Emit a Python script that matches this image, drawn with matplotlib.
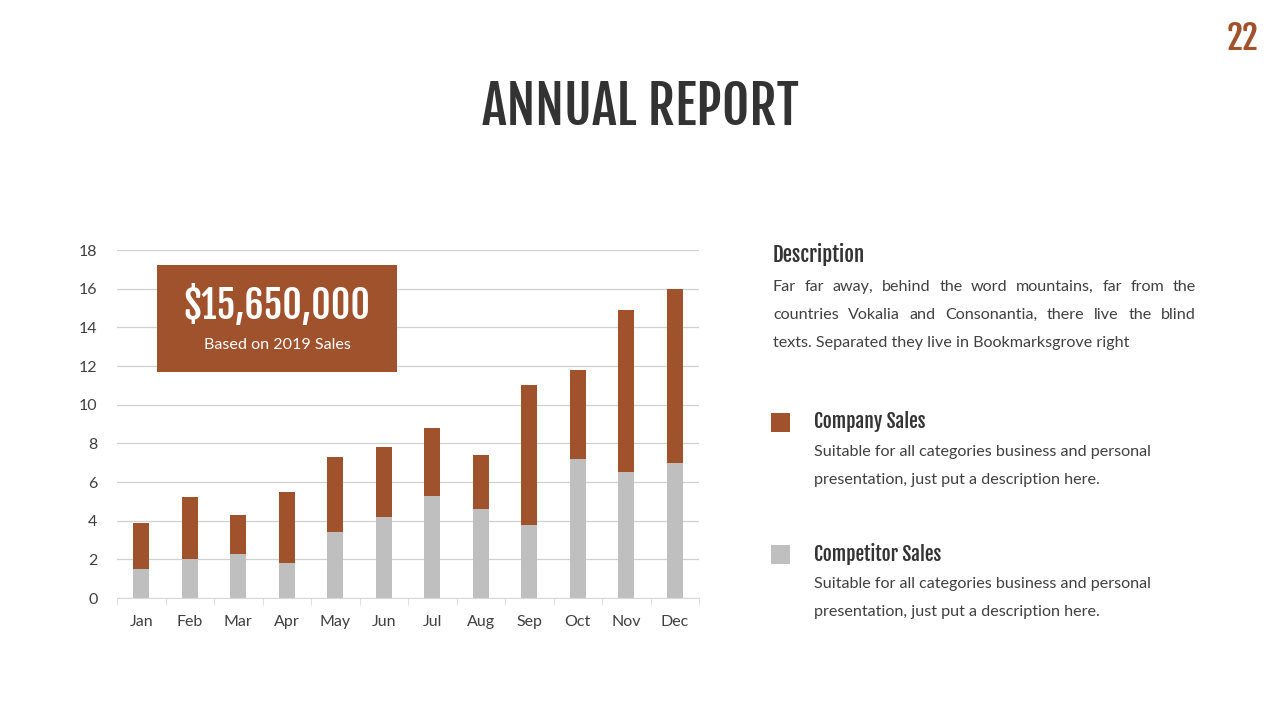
import matplotlib
matplotlib.use("Agg")
import matplotlib.pyplot as plt
from matplotlib.patches import Rectangle
import numpy as np

months = ['Jan', 'Feb', 'Mar', 'Apr', 'May', 'Jun', 'Jul', 'Aug', 'Sep', 'Oct', 'Nov', 'Dec']
competitor = [1.5, 2.0, 2.3, 1.8, 3.4, 4.2, 5.3, 4.6, 3.8, 7.2, 6.5, 7.0]
company = [2.4, 3.2, 2.0, 3.7, 3.9, 3.6, 3.5, 2.8, 7.2, 4.6, 8.4, 9.0]
yticks = [0, 2, 4, 6, 8, 10, 12, 14, 16, 18]

BROWN = '#A0522D'
GREY = '#BFBFBF'
DARK = '#333333'
BODY = '#404040'
COND = ['Fjalla One', 'Oswald', 'Roboto Condensed', 'DejaVu Sans']
LATO = ['Lato', 'DejaVu Sans']
BODY_SIZE = 11.6

W, H = 1280, 720


def fx(x):
    return x / W


def fy(y):
    return 1 - y / H


fig = plt.figure(figsize=(12.8, 7.2), dpi=100)
fig.patch.set_facecolor('white')

ax = fig.add_axes([fx(117), fy(598), fx(699) - fx(117), fy(250) - fy(598)])
x = np.arange(len(months))
ax.bar(x, competitor, width=0.33, color=GREY, zorder=2)
ax.bar(x, company, width=0.33, bottom=competitor, color=BROWN, zorder=2)
ax.set_xlim(-0.5, 11.5)
ax.set_ylim(0, 18)
ax.set_yticks(yticks)
ax.set_xticks(x)
ax.set_xticklabels(months)
ax.set_xticks(np.arange(-0.5, 12, 1), minor=True)
ax.tick_params(axis='x', which='major', length=0, pad=12, labelsize=11.5, labelcolor=BODY)
ax.tick_params(axis='x', which='minor', length=5, color='#D9D9D9')
ax.tick_params(axis='y', length=0, pad=14, labelsize=11.5, labelcolor=BODY)
for lab in ax.get_xticklabels() + ax.get_yticklabels():
    lab.set_family(LATO)
ax.grid(axis='y', color='#D0D0D0', linewidth=0.9, zorder=0)
for s in ['top', 'right', 'left']:
    ax.spines[s].set_visible(False)
ax.spines['bottom'].set_color('#D9D9D9')

# headline
fig.text(fx(640), fy(107), 'ANNUAL REPORT', ha='center', va='center',
         fontsize=38, color=DARK, family=COND)
fig.text(fx(1243), fy(39), '22', ha='center', va='center',
         fontsize=24, color=BROWN, family=COND)

# value box
fig.patches.append(Rectangle((fx(157), fy(372)), fx(397) - fx(157), fy(265) - fy(372),
                             transform=fig.transFigure, facecolor=BROWN,
                             edgecolor='none', zorder=3))
fig.text(fx(277), fy(306), '$15,650,000', ha='center', va='center',
         fontsize=27, color='white', family=COND, zorder=4)
fig.text(fx(277), fy(345), 'Based on 2019 Sales', ha='center', va='center',
         fontsize=BODY_SIZE, color='white', family=LATO, zorder=4)

# right panel
fig.text(fx(773), fy(254), 'Description', ha='left', va='center',
         fontsize=15, color=DARK, family=COND)

renderer = fig.canvas.get_renderer()


def justified(line, x0, x1, y, size=BODY_SIZE):
    words = line.split()
    widths = []
    arts = []
    for w in words:
        t = fig.text(0, fy(y), w, ha='left', va='center', fontsize=size,
                     color=BODY, family=LATO)
        widths.append(t.get_window_extent(renderer).width)
        arts.append(t)
    gap = ((x1 - x0) - sum(widths)) / (len(words) - 1)
    pos = x0
    for t, wd in zip(arts, widths):
        t.set_x(fx(pos))
        pos += wd + gap


justified('Far far away, behind the word mountains, far from the', 773, 1196, 287)
justified('countries Vokalia and Consonantia, there live the blind', 773, 1196, 315)
fig.text(fx(773), fy(343), 'texts. Separated they live in Bookmarksgrove right',
         ha='left', va='center', fontsize=BODY_SIZE, color=BODY, family=LATO)

legend_items = [('Company Sales', BROWN, 422), ('Competitor Sales', GREY, 554)]
for name, col, yy in legend_items:
    fig.patches.append(Rectangle((fx(771), fy(yy + 10)), fx(790) - fx(771), fy(yy - 9) - fy(yy + 10),
                                 transform=fig.transFigure, facecolor=col, edgecolor='none'))
    fig.text(fx(814), fy(yy), name, ha='left', va='center', fontsize=14,
             color=DARK, family=COND)
    fig.text(fx(814), fy(yy + 30), 'Suitable for all categories business and personal',
             ha='left', va='center', fontsize=BODY_SIZE, color=BODY, family=LATO)
    fig.text(fx(814), fy(yy + 58), 'presentation, just put a description here.',
             ha='left', va='center', fontsize=BODY_SIZE, color=BODY, family=LATO)

fig.savefig('out.png', dpi=100)
